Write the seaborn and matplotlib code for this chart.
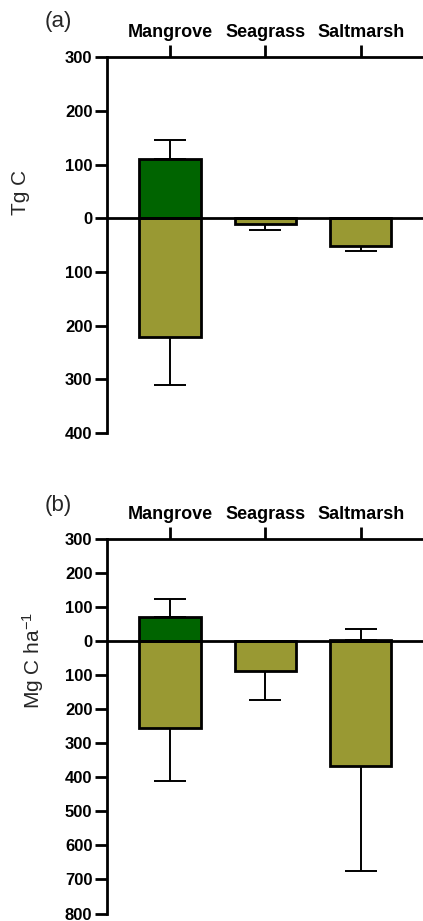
import matplotlib
matplotlib.use("Agg")
import matplotlib.pyplot as plt
import seaborn as sns
import numpy as np
from matplotlib.ticker import FuncFormatter, FixedLocator

# ---------------- data ----------------
categories = ["Mangrove", "Seagrass", "Saltmarsh"]

# panel (a) Tg C
a_pos = [110, 0, 0]
a_pos_err = [35, 0, 0]
a_neg = [-222, -10, -51]
a_neg_err = [88, 11, 10]
a_ticks = [300, 200, 100, 0, -100, -200, -300, -400]

# panel (b) Mg C ha-1
b_pos = [69, 0, 4]
b_pos_err = [54, 0, 31]
b_neg = [-255, -87, -367]
b_neg_err = [155, 86, 308]
b_ticks = [300, 200, 100, 0, -100, -200, -300, -400, -500, -600, -700, -800]

dark_green = "#006400"
olive = "#999933"

sns.set_style("ticks")
plt.rcParams["font.family"] = ["Liberation Sans", "DejaVu Sans"]
plt.rcParams["mathtext.default"] = "regular"

fig = plt.figure(figsize=(4.23, 9.21), dpi=100)


def panel(ax, pos, pos_err, neg, neg_err, ticks, ylabel, letter, ylab_xy, letter_xy):
    sns.barplot(x=categories, y=pos, order=categories, color=dark_green,
                edgecolor="black", linewidth=2, width=0.64, errorbar=None,
                ax=ax, zorder=3, saturation=1)
    sns.barplot(x=categories, y=neg, order=categories, color=olive,
                edgecolor="black", linewidth=2, width=0.64, errorbar=None,
                ax=ax, zorder=3, saturation=1)
    xs = np.arange(len(categories))
    # error bars, only away from zero
    idx = [i for i in range(len(categories)) if pos_err[i] > 0]
    ax.errorbar(xs[idx], [pos[i] for i in idx],
                yerr=[[0] * len(idx), [pos_err[i] for i in idx]],
                fmt="none", ecolor="black", elinewidth=1.4, capsize=11.5,
                capthick=1.4, zorder=2)
    idx = [i for i in range(len(categories)) if neg_err[i] > 0]
    ax.errorbar(xs[idx], [neg[i] for i in idx],
                yerr=[[neg_err[i] for i in idx], [0] * len(idx)],
                fmt="none", ecolor="black", elinewidth=1.4, capsize=11.5,
                capthick=1.4, zorder=2)
    ax.axhline(0, color="black", lw=2, zorder=4)
    ax.set_xlim(-0.66, 2.65)
    ax.set_ylim(min(ticks), max(ticks))
    ax.yaxis.set_major_locator(FixedLocator(ticks))
    ax.yaxis.set_major_formatter(FuncFormatter(lambda v, p: f"{abs(v):.0f}"))
    ax.xaxis.tick_top()
    ax.xaxis.set_label_position("top")
    ax.set_xlabel("")
    ax.set_ylabel("")
    for s in ["right", "bottom"]:
        ax.spines[s].set_visible(False)
    for s in ["left", "top"]:
        ax.spines[s].set_linewidth(2)
        ax.spines[s].set_color("black")
    ax.tick_params(axis="y", length=8.5, width=2, labelsize=12, pad=2, colors="black")
    ax.tick_params(axis="x", length=8.5, width=2, labelsize=13, pad=3, colors="black",
                   top=True, bottom=False, labeltop=True, labelbottom=False)
    for lab in ax.get_yticklabels() + ax.get_xticklabels():
        lab.set_fontweight("bold")
    fig.text(ylab_xy[0] / 423, 1 - ylab_xy[1] / 921, ylabel, rotation=90,
             ha="center", va="center", fontsize=15)
    fig.text(letter_xy[0] / 423, 1 - letter_xy[1] / 921, letter,
             ha="center", va="center", fontsize=16)


ax_a = fig.add_axes([107 / 423, 1 - 433 / 921, (423 - 107) / 423, (433 - 57.2) / 921])
panel(ax_a, a_pos, a_pos_err, a_neg, a_neg_err, a_ticks, "Tg C", "(a)", (20, 192), (58, 22))

ax_b = fig.add_axes([107 / 423, 1 - 913.5 / 921, (423 - 107) / 423, (913.5 - 538.7) / 921])
panel(ax_b, b_pos, b_pos_err, b_neg, b_neg_err, b_ticks, "Mg C ha$^{-1}$", "(b)", (33, 661), (58, 505))

fig.savefig("out.png", dpi=100)
